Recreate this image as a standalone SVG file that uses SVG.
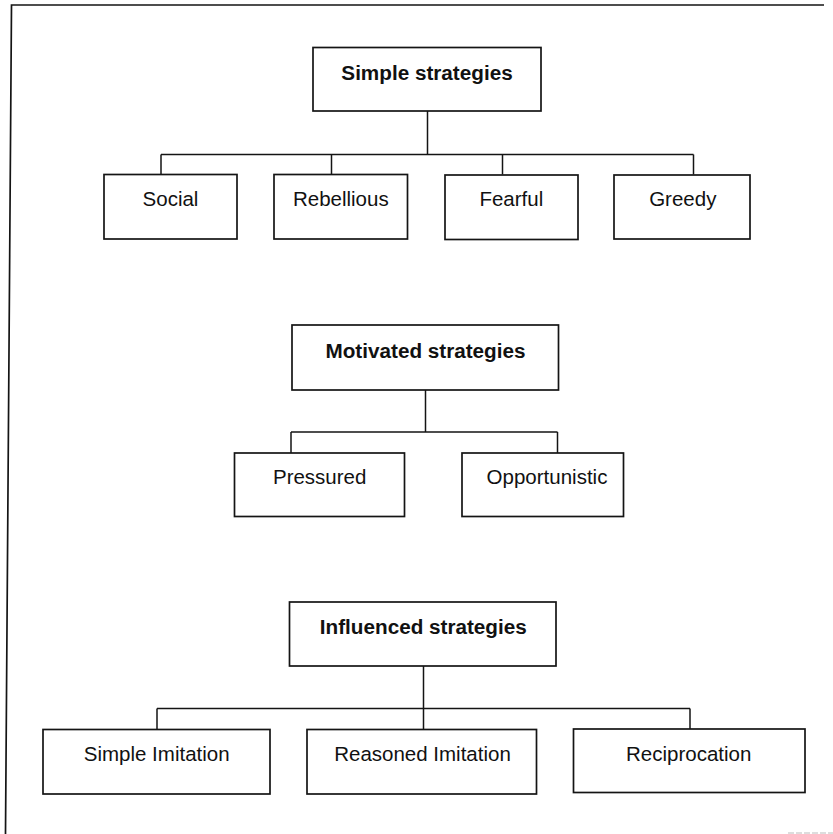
<svg xmlns="http://www.w3.org/2000/svg" width="833" height="834" viewBox="0 0 833 834">
  <style>
    .box { fill: #fff; stroke: #141414; stroke-width: 1.7; }
    .wire { fill: none; stroke: #141414; stroke-width: 1.5; }
    .frame { fill: none; stroke: #141414; stroke-width: 1.7; }
    .head { font-family: "Liberation Sans", Arial, sans-serif; font-size: 20.7px; font-weight: bold; fill: #111; text-anchor: middle; }
    .leaf { font-family: "Liberation Sans", Arial, sans-serif; font-size: 20.5px; fill: #111; text-anchor: middle; }
  </style>

  <rect width="833" height="834" fill="#fff"/>

  <!-- page frame -->
  <g id="frame">
    <path class="frame" d="M824,5 L11.5,5 L5.5,834"/>
    <line x1="788" y1="833" x2="833" y2="833" stroke="#bbb" stroke-width="1" stroke-dasharray="6 2"/>
  </g>

  <!-- connectors -->
  <g id="connectors">
    <path class="wire" d="M427.5,111 V154.5 M161,154.5 H693.5 M161,154.5 V174.5 M331.5,154.5 V174.5 M502.5,154.5 V174.5 M693.5,154.5 V174.5"/>
    <path class="wire" d="M425.5,390 V432 M291,432 H557.5 M291,432 V453 M557.5,432 V453"/>
    <path class="wire" d="M423.5,666 V729.5 M157,708.5 H690 M157,708.5 V729.5 M690,708.5 V729.5"/>
  </g>

  <!-- simple strategies -->
  <g id="simple-strategies">
    <rect class="box" x="313" y="47.5" width="228" height="63.5"/>
    <text class="head" x="427" y="79.5">Simple strategies</text>
  </g>
  <g id="social">
    <rect class="box" x="104" y="174.5" width="133" height="64.5"/>
    <text class="leaf" x="170.5" y="205.5">Social</text>
  </g>
  <g id="rebellious">
    <rect class="box" x="274" y="174.5" width="133.5" height="64.5"/>
    <text class="leaf" x="340.8" y="205.5">Rebellious</text>
  </g>
  <g id="fearful">
    <rect class="box" x="445" y="175" width="133" height="64.5"/>
    <text class="leaf" x="511.3" y="205.5">Fearful</text>
  </g>
  <g id="greedy">
    <rect class="box" x="614" y="175" width="136" height="64"/>
    <text class="leaf" x="682.8" y="205.5">Greedy</text>
  </g>

  <!-- motivated strategies -->
  <g id="motivated-strategies">
    <rect class="box" x="292" y="325" width="266.5" height="65"/>
    <text class="head" x="425.5" y="357.5">Motivated strategies</text>
  </g>
  <g id="pressured">
    <rect class="box" x="234.5" y="453" width="170" height="63.5"/>
    <text class="leaf" x="319.7" y="484.3">Pressured</text>
  </g>
  <g id="opportunistic">
    <rect class="box" x="462" y="453" width="161.5" height="63.5"/>
    <text class="leaf" x="547" y="484.3">Opportunistic</text>
  </g>

  <!-- influenced strategies -->
  <g id="influenced-strategies">
    <rect class="box" x="289.5" y="602" width="266.5" height="64"/>
    <text class="head" x="423.3" y="633.5">Influenced strategies</text>
  </g>
  <g id="simple-imitation">
    <rect class="box" x="43" y="729.5" width="227" height="64.5"/>
    <text class="leaf" x="156.7" y="760.5">Simple Imitation</text>
  </g>
  <g id="reasoned-imitation">
    <rect class="box" x="307" y="729.5" width="229.5" height="64.5"/>
    <text class="leaf" x="422.5" y="760.5">Reasoned Imitation</text>
  </g>
  <g id="reciprocation">
    <rect class="box" x="573.5" y="729" width="231.5" height="63.5"/>
    <text class="leaf" x="688.7" y="760.5">Reciprocation</text>
  </g>
</svg>
